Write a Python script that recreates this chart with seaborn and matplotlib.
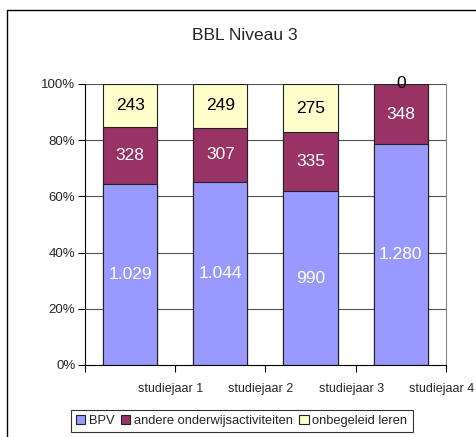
import seaborn as sns
import matplotlib.pyplot as plt
from matplotlib.lines import Line2D
from matplotlib.patches import Patch
import pandas as pd
import numpy as np

sns.set_theme(style="white")
plt.rcParams['font.family'] = ['Liberation Sans', 'DejaVu Sans']

# data
jaren = ["studiejaar 1", "studiejaar 2", "studiejaar 3", "studiejaar 4"]
bpv = [1029, 1044, 990, 1280]
andere = [328, 307, 335, 348]
onbegeleid = [243, 249, 275, 0]
bpv_labels = ["1.029", "1.044", "990", "1.280"]
reeksen = ["BPV", "andere onderwijsactiviteiten", "onbegeleid leren"]
kleuren = ["#9999FF", "#993366", "#FFFFCC"]
tekstkleur = ["white", "white", "black"]

df = pd.DataFrame({"jaar": jaren, "BPV": bpv, "andere": andere, "onbegeleid": onbegeleid})
totaal = df[["BPV", "andere", "onbegeleid"]].sum(axis=1)
df["p1"] = df["BPV"] / totaal * 100
df["p2"] = (df["BPV"] + df["andere"]) / totaal * 100
df["p3"] = 100.0

fig = plt.figure(figsize=(4.76, 4.37), dpi=100)
ax = fig.add_axes([0.1786, 0.1648, 0.758, 0.643])

# horizontal gridlines behind the bars
for yv in [20, 40, 60, 80, 100]:
    ax.axhline(yv, color="#555555", lw=0.8, zorder=0)

# stacked bars: draw cumulative layers from top to bottom
for col, kleur in zip(["p3", "p2", "p1"], kleuren[::-1]):
    sns.barplot(data=df, x="jaar", y=col, color=kleur, width=0.6,
                edgecolor="#222222", linewidth=0.8, saturation=1, ax=ax, zorder=2)

# segment labels
onder = [np.zeros(4), df["p1"].values, df["p2"].values]
boven = [df["p1"].values, df["p2"].values, df["p3"].values]
labels = [bpv_labels, [str(v) for v in andere], [str(v) for v in onbegeleid]]
for k in range(3):
    for i in range(4):
        ax.text(i, (onder[k][i] + boven[k][i]) / 2, labels[k][i],
                ha="center", va="center", fontsize=12.5, color=tekstkleur[k], zorder=5)

ax.set_xlim(-0.5, 3.5)
ax.set_ylim(0, 100)
ax.set_xlabel("")
ax.set_ylabel("")

ax.set_yticks([0, 20, 40, 60, 80, 100])
ax.set_yticklabels([f"{v}%" for v in [0, 20, 40, 60, 80, 100]], fontsize=9.5)
ax.tick_params(axis="y", length=5, width=0.8, color="black", left=True, pad=2)

# tick marks at category borders, labels shifted to the right (as in the original)
ax.set_xticks([-0.5, 0.5, 1.5, 2.5, 3.5])
ax.set_xticklabels([])
ax.set_xticks([0.45, 1.45, 2.45, 3.45], minor=True)
ax.set_xticklabels(jaren, minor=True, fontsize=9)
ax.tick_params(axis="x", which="major", length=5, width=0.8, color="black", bottom=True)
ax.tick_params(axis="x", which="minor", length=0, pad=13)

for s in ["top"]:
    ax.spines[s].set_visible(False)
ax.spines["left"].set_color("black")
ax.spines["left"].set_linewidth(0.8)
ax.spines["bottom"].set_color("black")
ax.spines["bottom"].set_linewidth(0.8)
ax.spines["right"].set_color("#888888")
ax.spines["right"].set_linewidth(0.8)

fig.text(0.515, 0.918, "BBL Niveau 3", ha="center", va="center", fontsize=12.5)

handles = [Patch(facecolor=c, edgecolor="#222222", linewidth=0.8) for c in kleuren]
leg = fig.legend(handles, reeksen, loc="upper center", bbox_to_anchor=(0.508, 0.062),
                 ncol=3, fontsize=9.3, frameon=True, fancybox=False, edgecolor="black",
                 handlelength=0.7, handleheight=0.7, handletextpad=0.3, columnspacing=0.5,
                 borderpad=0.4, borderaxespad=0)
leg.get_frame().set_linewidth(0.8)

# outer chart border (top and left visible)
fig.add_artist(Line2D([7 / 476, 1.0], [1 - 10 / 437, 1 - 10 / 437], color="black", lw=1))
fig.add_artist(Line2D([7 / 476, 7 / 476], [0, 1 - 10 / 437], color="black", lw=1))

fig.savefig("out.png", dpi=100)
